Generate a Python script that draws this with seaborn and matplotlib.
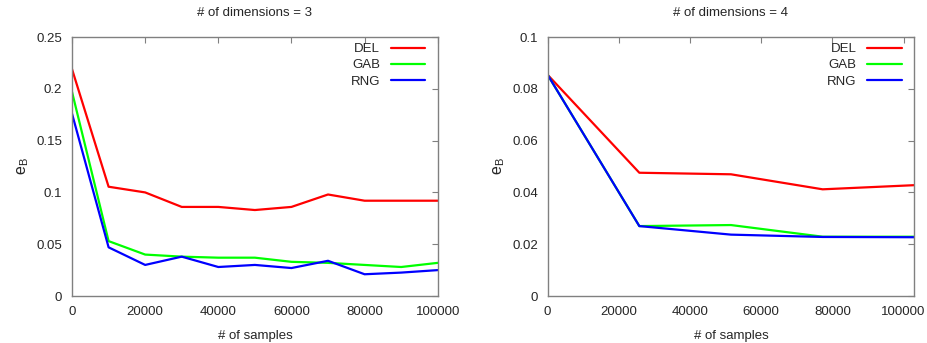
import numpy as np
import pandas as pd
import seaborn as sns
import matplotlib
matplotlib.use("Agg")
import matplotlib.pyplot as plt

# dimensions = 3
samples_3 = [0, 10000, 20000, 30000, 40000, 50000, 60000, 70000, 80000, 90000, 100000]
del_3 = [0.219, 0.1055, 0.100, 0.086, 0.086, 0.083, 0.086, 0.098, 0.092, 0.092, 0.092]
gab_3 = [0.197, 0.053, 0.040, 0.038, 0.037, 0.037, 0.033, 0.032, 0.030, 0.028, 0.032]
rng_3 = [0.176, 0.047, 0.030, 0.038, 0.028, 0.030, 0.027, 0.034, 0.021, 0.0226, 0.025]

# dimensions = 4
samples_4 = [0, 25750, 51500, 77250, 103000]
del_4 = [0.0854, 0.0476, 0.0470, 0.0412, 0.0428]
gab_4 = [0.0854, 0.0270, 0.0274, 0.0229, 0.0229]
rng_4 = [0.0854, 0.0270, 0.0237, 0.0228, 0.0227]

methods = ["DEL", "GAB", "RNG"]
colors = {"DEL": "#ff0000", "GAB": "#00ff00", "RNG": "#0000ff"}


def to_long(samples, series):
    frames = []
    for name, vals in zip(methods, series):
        frames.append(pd.DataFrame({"samples": samples, "e": vals, "method": name}))
    return pd.concat(frames, ignore_index=True)


sns.set_style("white")
plt.rcParams["font.family"] = ["Liberation Sans", "DejaVu Sans"]

fig = plt.figure(figsize=(9.27, 3.43), dpi=100)
ax1 = fig.add_axes([0.0777, 0.137, 0.3945, 0.755])
ax2 = fig.add_axes([0.5908, 0.137, 0.3955, 0.755])

panels = [
    (ax1, to_long(samples_3, [del_3, gab_3, rng_3]), "# of dimensions = 3",
     (0, 100000), (0, 0.25), [0, 0.05, 0.1, 0.15, 0.2, 0.25]),
    (ax2, to_long(samples_4, [del_4, gab_4, rng_4]), "# of dimensions = 4",
     (0, 103000), (0, 0.1), [0, 0.02, 0.04, 0.06, 0.08, 0.1]),
]

for ax, df, title, xlim, ylim, yticks in panels:
    sns.lineplot(data=df, x="samples", y="e", hue="method", palette=colors,
                 linewidth=1.6, ax=ax, legend=True)
    ax.set_xlim(*xlim)
    ax.set_ylim(*ylim)
    ax.set_xticks([0, 20000, 40000, 60000, 80000, 100000])
    ax.set_xticklabels(["0", "20000", "40000", "60000", "80000", "100000"])
    ax.set_yticks(yticks)
    ax.set_yticklabels(["%g" % t for t in yticks])
    ax.tick_params(direction="in", length=4, width=0.8, color="#808080",
                   labelsize=9.5, top=True, right=True, pad=7)
    for sp in ax.spines.values():
        sp.set_color("#808080")
        sp.set_linewidth(1.0)
    ax.set_xlabel("# of samples", fontsize=9.5, labelpad=9)
    ax.set_ylabel(r"e$_\mathregular{B}$", fontsize=11.5, labelpad=4)
    ax.set_title(title, fontsize=9.5, pad=15)
    leg = ax.legend(loc="upper right", bbox_to_anchor=(0.978, 0.995),
                    frameon=False, markerfirst=False,
                    fontsize=9.5, handlelength=2.6, labelspacing=0.3,
                    borderaxespad=0.15, borderpad=0.2, handletextpad=0.8)

fig.savefig("out.png", dpi=100)
